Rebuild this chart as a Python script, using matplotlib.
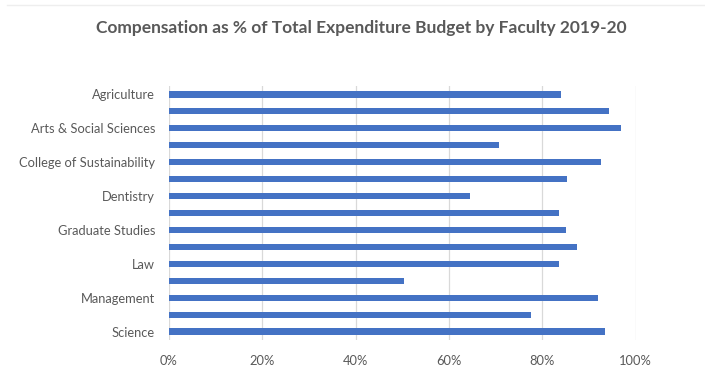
import matplotlib
matplotlib.use("Agg")
import matplotlib.pyplot as plt
from matplotlib.ticker import FuncFormatter

categories = [
    "Agriculture", "Architecture & Planning", "Arts & Social Sciences",
    "Computer Science", "College of Sustainability", "Continuing Education",
    "Dentistry", "Engineering", "Graduate Studies", "Health", "Law",
    "Libraries", "Management", "Medicine", "Science",
]
values = [84.1, 94.3, 96.9, 70.8, 92.6, 85.2, 64.6, 83.6,
          85.1, 87.4, 83.5, 50.4, 92.0, 77.6, 93.4]
shown_labels = [c if i % 2 == 0 else "" for i, c in enumerate(categories)]
x_ticks = [0, 20, 40, 60, 80, 100]

plt.rcParams['font.family'] = ['Lato', 'DejaVu Sans']
text_color = "#595959"

fig = plt.figure(figsize=(7.05, 3.73), dpi=100)
ax = fig.add_axes([169/705, 1 - 340/373, (635.7-169)/705, (340-86)/373])

ypos = list(range(len(categories)))
ax.barh(ypos, values, height=0.36, color="#4472C4", zorder=3)
ax.set_ylim(len(categories) - 0.5, -0.5)
ax.set_yticks(ypos)
ax.set_yticklabels(shown_labels, fontsize=9.3, color=text_color)
ax.set_xlim(0, 100)
ax.set_xticks(x_ticks)
ax.xaxis.set_major_formatter(FuncFormatter(lambda v, p: f"{v:.0f}%"))
ax.tick_params(axis='x', labelsize=9.3, labelcolor=text_color, length=0, pad=11)
ax.tick_params(axis='y', length=0, pad=10)
ax.grid(axis='x', color="#d9d9d9", linewidth=0.9, zorder=0)
for s in ax.spines.values():
    s.set_visible(False)

fig.text(361/705, 1 - 28/373, "Compensation as % of Total Expenditure Budget by Faculty 2019-20",
         ha='center', va='center', fontsize=12.5, fontweight='bold', color=text_color)
fig.add_artist(plt.Line2D([7/705, 1], [1 - 5/373, 1 - 5/373], color="#eeeeee", linewidth=1))

fig.savefig("out.png", dpi=100)
